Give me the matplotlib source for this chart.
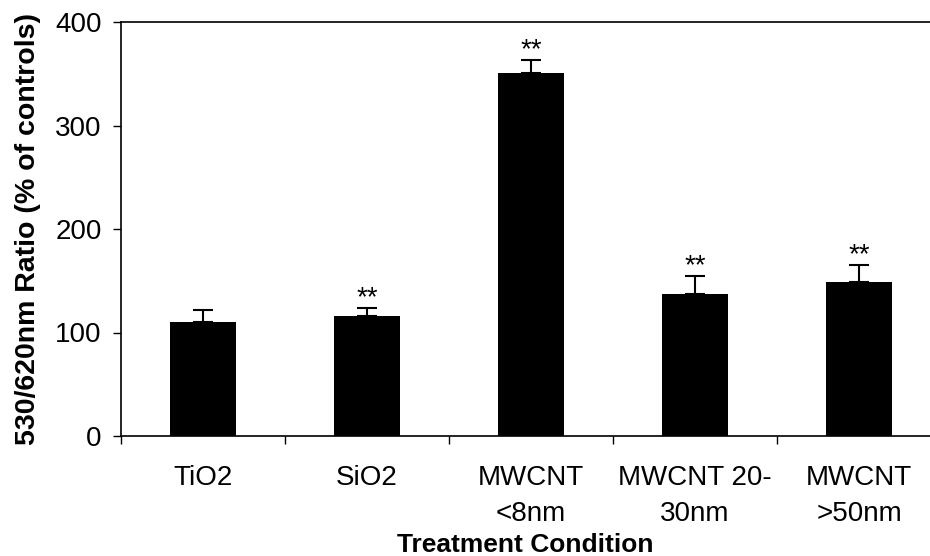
import numpy as np
import matplotlib
matplotlib.use('Agg')
from matplotlib import pyplot as plt

# data
conditions = ['TiO2', 'SiO2', 'MWCNT\n<8nm', 'MWCNT 20-\n30nm', 'MWCNT\n>50nm']
ratio = [110, 116, 351, 137, 149]
ratio_err = [11.6, 7.7, 12.6, 17.4, 16.4]
signif = ['', '**', '**', '**', '**']

plt.rcParams['font.family'] = ['Liberation Sans', 'DejaVu Sans']

def main():
	fig = plt.figure(figsize=(9.3, 5.56), dpi=100, facecolor='w')
	# the right end of the plot area runs past the picture, as in the reference
	ax = fig.add_axes([121 / 930, 120 / 556, 820 / 930, 414 / 556])

	x = np.arange(len(conditions))
	ax.bar(x, ratio, width=0.4, color='black', zorder=2)
	ax.errorbar(x, ratio, yerr=[np.zeros(len(x)), ratio_err], fmt='none',
				ecolor='black', elinewidth=1.5, capsize=7, capthick=1.5, zorder=1)

	for xi, (m, e, s) in enumerate(zip(ratio, ratio_err, signif)):
		if s:
			ax.annotate(s, (xi, m + e), xytext=(0, 2), textcoords='offset points',
						ha='center', va='baseline', fontsize=20)

	ax.set_xlim(-0.5, len(conditions) - 0.5)
	ax.set_ylim(0, 400)
	ax.set_yticks([0, 100, 200, 300, 400])

	# ticks sit between categories, labels under the bars
	ax.set_xticks(np.arange(len(conditions) + 1) - 0.5)
	ax.set_xticklabels([])
	ax.set_xticks(x, minor=True)
	ax.set_xticklabels(conditions, minor=True, fontsize=20, linespacing=1.5)
	ax.tick_params(axis='x', which='major', direction='out', length=6, width=1, colors='black')
	ax.tick_params(axis='x', which='minor', length=0, pad=21)
	ax.tick_params(axis='y', direction='out', length=6, width=1, labelsize=20, pad=8)

	for side in ['left', 'bottom', 'top', 'right']:
		ax.spines[side].set_linewidth(1.2)
		ax.spines[side].set_color('black')

	ax.set_ylabel('530/620nm Ratio (% of controls)', fontsize=20.5, fontweight='bold')
	ax.yaxis.set_label_coords(-0.098, 0.5)
	ax.set_xlabel('Treatment Condition', fontsize=19, fontweight='bold')
	ax.xaxis.set_label_coords((525 - 121) / 820, -0.235)

	fig.savefig('out.png', dpi=100, facecolor='w')

if __name__ == '__main__':
	main()
